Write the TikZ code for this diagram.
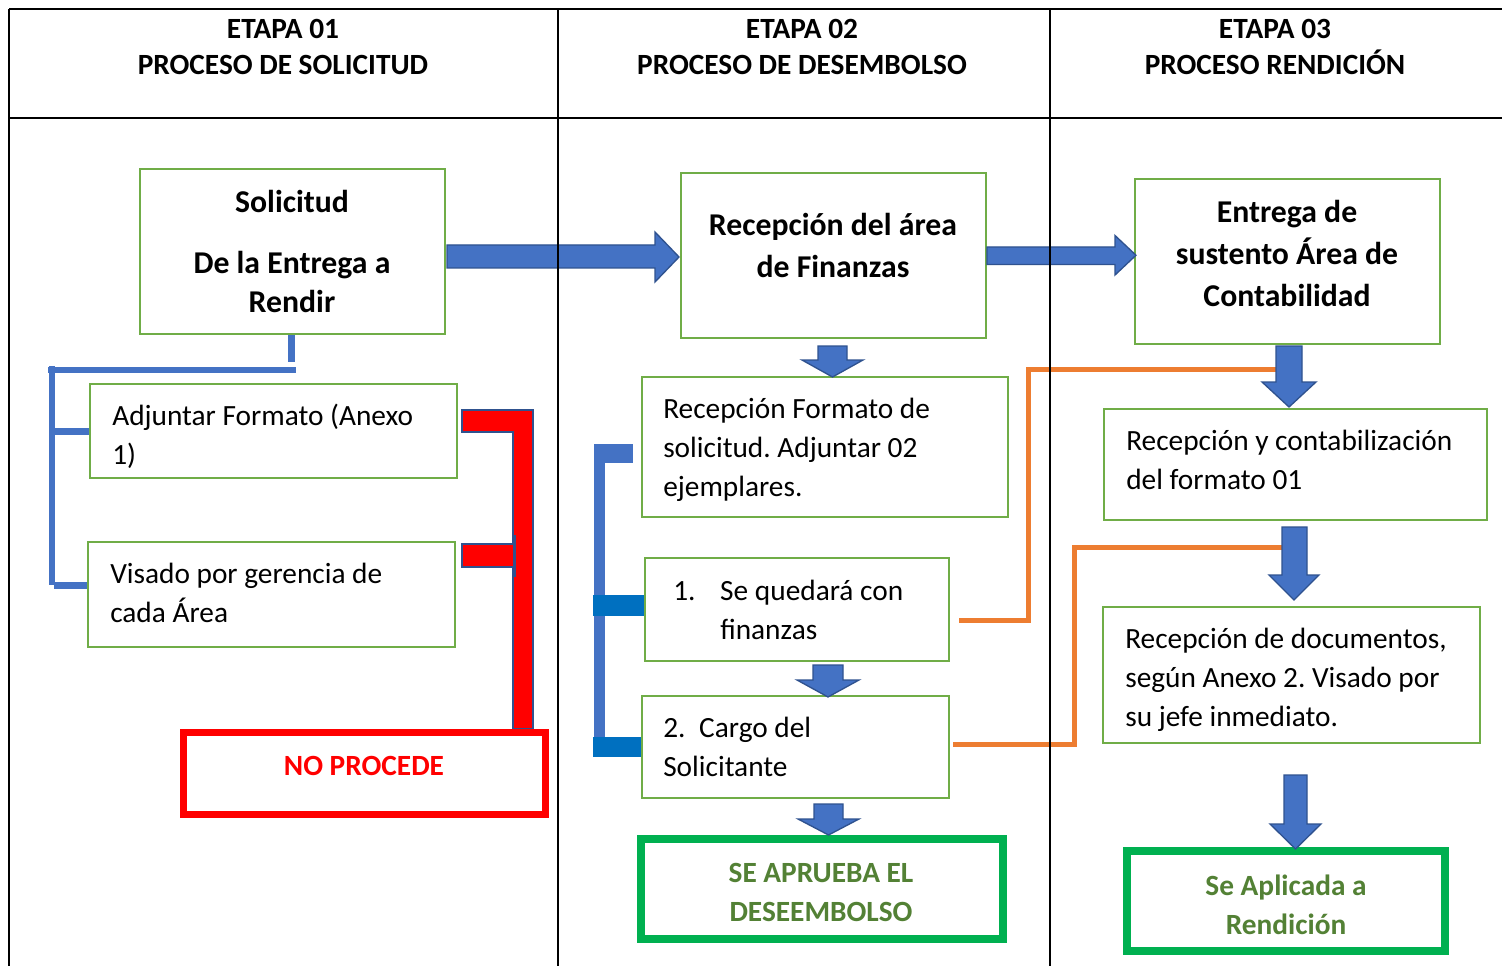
\documentclass[tikz,border=0pt]{standalone}
\usepackage{fontspec}
\setmainfont{Carlito}
\usetikzlibrary{calc}
\definecolor{boxgreen}{HTML}{70AD47}
\definecolor{okgreen}{HTML}{00B050}
\definecolor{txtgreen}{HTML}{538135}
\definecolor{arrblue}{HTML}{4472C4}
\definecolor{arredge}{HTML}{2F528F}
\definecolor{stubblue}{HTML}{0070C0}
\definecolor{linkorange}{HTML}{ED7D31}
\definecolor{nored}{HTML}{FF0000}
\newcommand\rectnode[6]{\node[#1, minimum width={(#5-#3)*0.75pt}, minimum height={(#6-#4)*0.75pt}] (#2) at ({(#3+#5)/2},{(#4+#6)/2}) {};}
% xl xr shafttop headstart headleft headright tipy
\newcommand\downblock[7]{\path[blockarrow] (#1,#3) -- (#1,#4) -- (#5,#4) -- ({(#5+#6)/2},#7) -- (#6,#4) -- (#2,#4) -- (#2,#3) -- cycle;}
% x0 xh xtip shafttop shaftbot headtop headbot
\newcommand\rightblock[7]{\path[blockarrow] (#1,#4) -- (#2,#4) -- (#2,#6) -- (#3,{(#6+#7)/2}) -- (#2,#7) -- (#2,#5) -- (#1,#5) -- cycle;}
\newcommand\hdrfont{\fontsize{22pt}{27pt}\selectfont\bfseries}
\newcommand\ttlfont{\fontsize{23.8pt}{31.5pt}\selectfont\bfseries}
\newcommand\bodyfont{\fontsize{22pt}{29.25pt}\selectfont}
\newcommand\finalfont{\fontsize{22pt}{29.25pt}\selectfont\bfseries}
\frenchspacing
\begin{document}
\begin{tikzpicture}[x=0.75pt,y=-0.75pt,
  gbox/.style={draw=boxgreen, line width=1.5pt, fill=white, inner sep=0pt},
  redbox/.style={draw=nored, line width=5.25pt, fill=white, inner sep=0pt},
  okbox/.style={draw=okgreen, line width=6pt, fill=white, inner sep=0pt},
  blockarrow/.style={fill=arrblue, draw=arredge, line width=1pt, line join=miter},
  tline/.style={draw=black, line width=1.6pt},
  txt/.style={inner sep=0pt, text=black},
  bracketblue/.style={draw=arrblue, line width=5pt},
  link/.style={draw=linkorange, line width=3.75pt},
]
\useasboundingbox (0,0) rectangle (1502,966);
\fill[white] (0,0) rectangle (1502,966);

% header texts
\node[txt, font=\hdrfont, align=center] (h1) at (283,47) {ETAPA 01\\PROCESO DE SOLICITUD};
\node[txt, font=\hdrfont, align=center] (h2) at (802,47) {ETAPA 02\\PROCESO DE DESEMBOLSO};
\node[txt, font=\hdrfont, align=center] (h3) at (1275,47) {ETAPA 03\\PROCESO RENDICIÓN};

% brackets (left, blue)
\draw[bracketblue] (291.5,334) -- (291.5,362);
\draw[bracketblue] (48,370) -- (296,370);
\draw[bracketblue] (52,366) -- (52,585);
\draw[bracketblue] (52,431.5) -- (92,431.5);
\draw[bracketblue] (54,585.5) -- (95,585.5);

% red bracket
\path[fill=nored, draw=arredge, line width=1pt] (462,410) -- (533,410) -- (533,729) -- (513,729) -- (513,432) -- (462,432) -- cycle;
\path[fill=nored, draw=arredge, line width=1pt] (462,544) rectangle (514,567);
\draw[arredge, line width=1.5pt] (515,535) -- (515,577);

% middle bracket
\fill[arrblue] (594,444) rectangle (605,757);
\fill[arrblue] (594,444) rectangle (633,463);
\fill[stubblue] (593,595) rectangle (645,616);
\fill[stubblue] (593,737) rectangle (645,757);

% boxes
\rectnode{gbox}{bsol}{140}{169}{445}{334}
\rectnode{gbox}{bfin}{681}{173}{986}{338}
\rectnode{gbox}{bent}{1135}{179}{1440}{344}
\rectnode{gbox}{badj}{90}{384}{457}{478}
\rectnode{gbox}{bvis}{88}{542}{455}{647}
\rectnode{redbox}{bno}{183.5}{732}{545.5}{814}
\rectnode{gbox}{brf}{642}{377}{1008}{517}
\rectnode{gbox}{bq}{645}{558}{949}{661}
\rectnode{gbox}{bcg}{642}{696}{949}{798}
\rectnode{okbox}{bap}{641}{839}{1003}{939}
\rectnode{gbox}{brc}{1104}{409}{1487}{520}
\rectnode{gbox}{brd}{1103}{607}{1480}{743}
\rectnode{okbox}{bren}{1127}{851}{1444.5}{950.5}

% orange links
\draw[link] (959,620) -- (1028,620) -- (1028,369) -- (1277,369);
\draw[link] (953,744) -- (1074,744) -- (1074,547) -- (1284,547);

% block arrows
\rightblock{447}{655}{679}{245}{268}{232}{282}
\rightblock{987}{1115}{1136}{247}{264.5}{235.5}{275}
\downblock{818}{847}{346}{360}{802}{863}{377}
\downblock{813}{843}{665}{680}{797}{859}{697}
\downblock{814}{843}{804}{819}{798}{859}{835}
\downblock{1276}{1302}{346}{382}{1262}{1316}{407}
\downblock{1282}{1307}{527}{575}{1269}{1319}{600}
\downblock{1284}{1307}{775}{824}{1270}{1321}{849}

% texts
\node[txt, font=\fontsize{23.8pt}{29.25pt}\selectfont\bfseries, align=center] (tsol) at (292,251) {Solicitud\\[16.5pt]De la Entrega a\\Rendir};
\node[txt, font=\ttlfont, align=center] (tfin) at (833,245) {Recepción del área\\de Finanzas};
\node[txt, font=\ttlfont, align=center] (tent) at (1287,253) {Entrega de\\sustento Área de\\Contabilidad};
\node[txt, font=\bodyfont, align=left, anchor=west] (tadj) at (112,436.5) {Adjuntar Formato (Anexo\\1)};
\node[txt, font=\bodyfont, align=left, anchor=west] (tvis) at (110,592.5) {Visado por gerencia de\\cada Área};
\node[txt, font=\bodyfont, align=left, anchor=west] (trf) at (663,449.5) {Recepción Formato de\\solicitud. Adjuntar 02\\ejemplares.};
\node[txt, font=\bodyfont, align=left, anchor=west] (tq) at (673,609.5) {\makebox[35.25pt][l]{1.}Se quedará con\\\hspace*{35.25pt}finanzas};
\node[txt, font=\bodyfont, align=left, anchor=west] (tcg) at (663,746.5) {\makebox[27pt][l]{2.}Cargo del\\Solicitante};
\node[txt, font=\finalfont, text=nored] (tno) at (364,766) {NO PROCEDE};
\node[txt, font=\finalfont, text=txtgreen, align=center] (tap) at (821,892.5) {SE APRUEBA EL\\DESEEMBOLSO};
\node[txt, font=\bodyfont, align=left, anchor=west] (trc) at (1126,459.5) {Recepción y contabilización\\del formato 01};
\node[txt, font=\bodyfont, align=left, anchor=west] (trd) at (1125,680) {Recepción de documentos,\\según Anexo 2. Visado por\\su jefe inmediato.};
\node[txt, font=\finalfont, text=txtgreen, align=center] (tren) at (1286,904.5) {Se Aplicada a\\Rendición};

% table lines on top
\draw[tline] (9,9) -- (1502,9);
\draw[tline] (9,118) -- (1502,118);
\draw[tline] (9,9) -- (9,966);
\draw[tline] (558,9) -- (558,966);
\draw[tline] (1050,9) -- (1050,966);
\end{tikzpicture}
\end{document}
